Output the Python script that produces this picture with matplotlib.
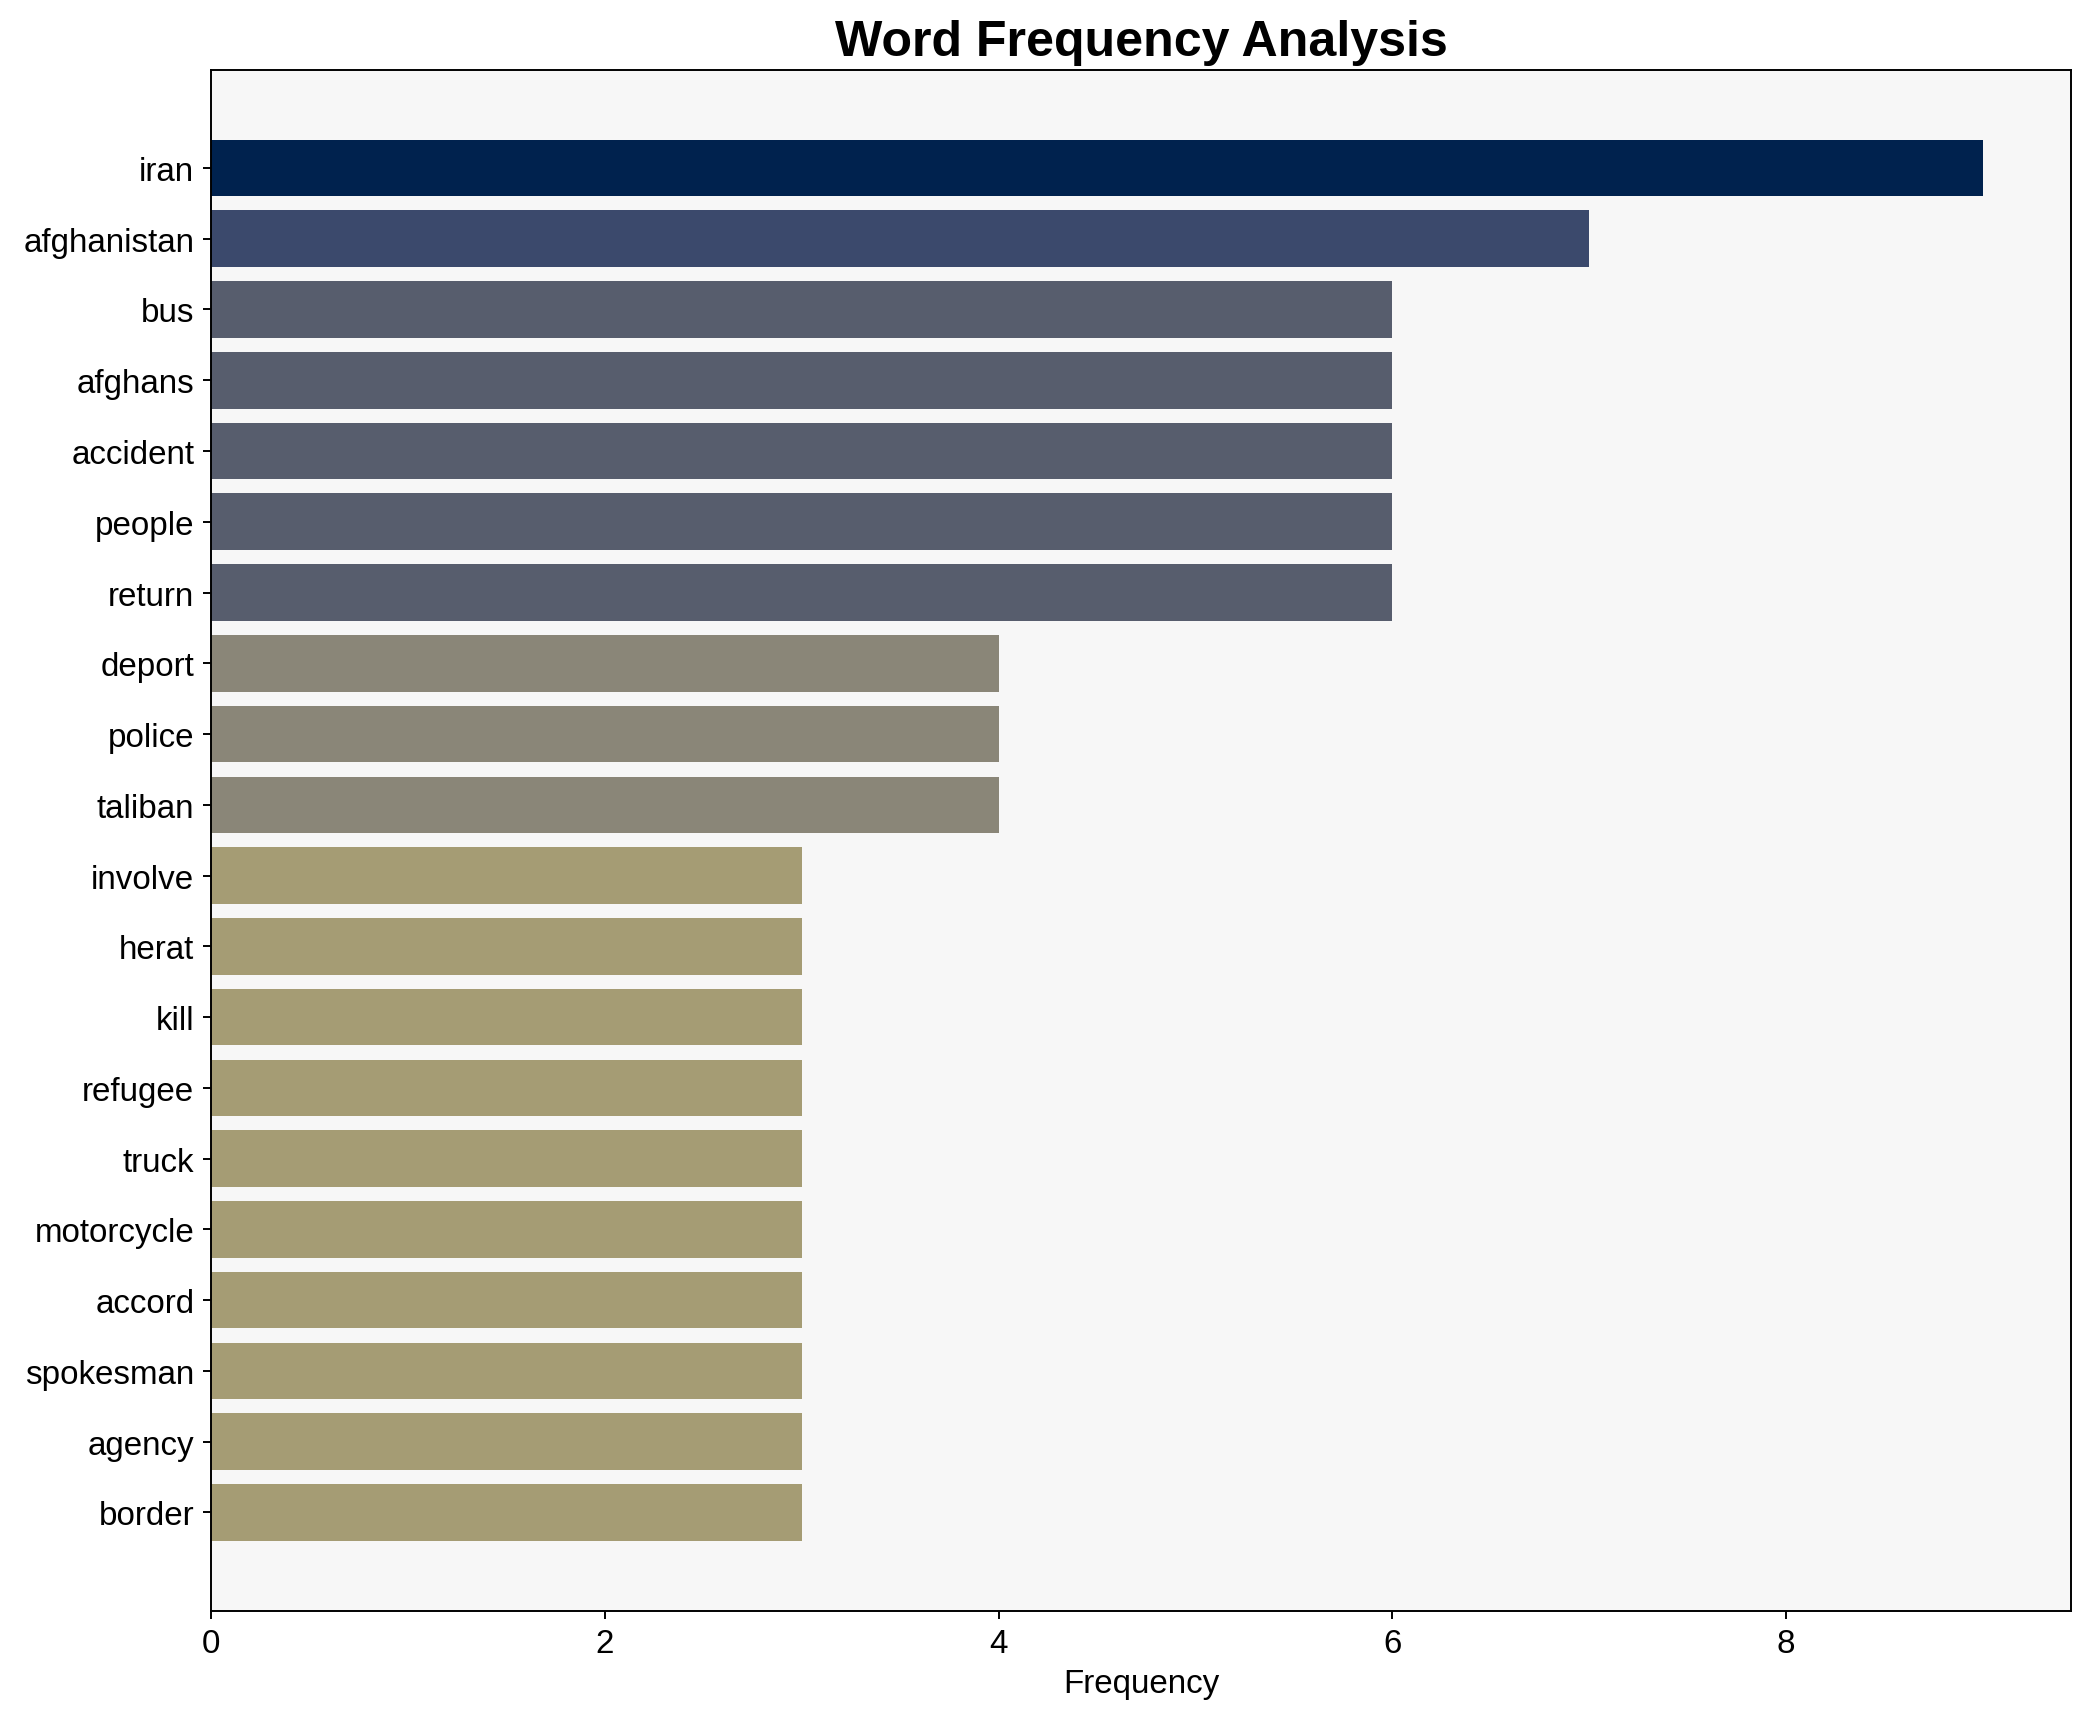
import matplotlib.pyplot as plt
import numpy as np

plt.rcParams['font.family'] = ['Liberation Sans', 'DejaVu Sans']

# Word counts
words = ["iran", "afghanistan", "bus", "afghans", "accident", "people", "return",
         "deport", "police", "taliban", "involve", "herat", "kill", "refugee",
         "truck", "motorcycle", "accord", "spokesman", "agency", "border"]
counts = [9, 7, 6, 6, 6, 6, 6, 4, 4, 4, 3, 3, 3, 3, 3, 3, 3, 3, 3, 3]

vals = np.array(counts)
colors = plt.cm.cividis(1 - vals / vals.max())

fig, ax = plt.subplots(figsize=(2092 / 174.3, 1722 / 174.3), dpi=174.3)
ax.set_facecolor('#f7f7f7')
ax.barh(words, counts, color=colors)
ax.invert_yaxis()
ax.set_xlim(0, max(counts) * 1.05)
ax.set_title("Word Frequency Analysis", fontsize=20.7, fontweight='bold')
ax.set_xlabel("Frequency", fontsize=13.7)
ax.tick_params(labelsize=13.7)
fig.subplots_adjust(left=0.101, right=0.99, top=0.959, bottom=0.064)
fig.savefig("out.png", dpi=174.3)
